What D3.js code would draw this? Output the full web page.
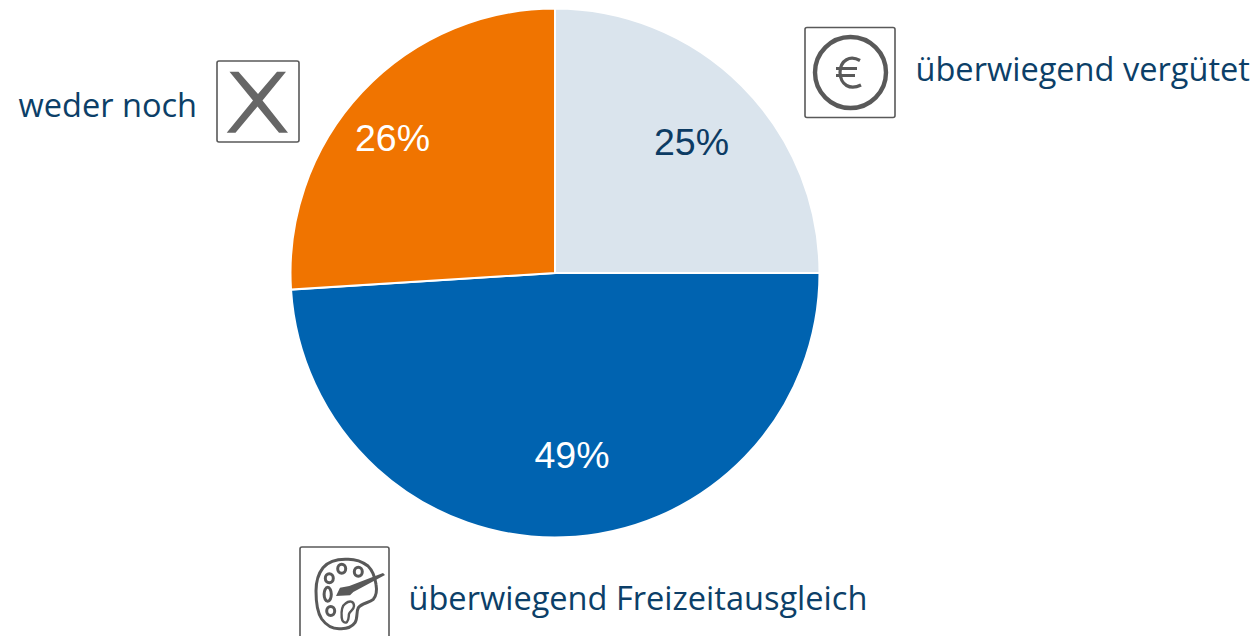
<!DOCTYPE html>
<html><head><meta charset="utf-8">
<script src="https://cdn.jsdelivr.net/npm/d3@7"></script>
<style>html,body{margin:0;padding:0;background:#fff;overflow:hidden}svg{display:block}</style></head>
<body><svg id="c" width="1260" height="636"></svg>
<script>
const categories = ["überwiegend vergütet","überwiegend Freizeitausgleich","weder noch"];
const values = [25,49,26];
const percentLabels = ["25%","49%","26%"];
const colors = ["#dae4ed","#0063b0","#f07400"];
const labelColors = ["#0c3b63","#ffffff","#ffffff"];
const labelPos = [[691.5,155],[572,468],[392.5,151]];
const catPos = [[915.5,81],[408.5,610],[18.5,117]];
const textColor = "#0c3f68", iconColor = "#595959";

const svg = d3.select("#c");
const pie = d3.pie().sort(null).value(d=>d);
const arc = d3.arc().innerRadius(0).outerRadius(264.5);
const g = svg.append("g").attr("transform","translate(555,273)");
g.selectAll("path").data(pie(values)).join("path")
 .attr("d",arc).attr("fill",(d,i)=>colors[i]).attr("stroke","#fff").attr("stroke-width",2);

svg.selectAll("text.p").data(percentLabels).join("text").attr("class","p")
 .attr("x",(d,i)=>labelPos[i][0]).attr("y",(d,i)=>labelPos[i][1])
 .attr("text-anchor","middle").attr("fill",(d,i)=>labelColors[i])
 .style("font","37.5px 'Liberation Sans',Arial,sans-serif").text(d=>d);

svg.selectAll("text.c").data(categories).join("text").attr("class","c")
 .attr("x",(d,i)=>catPos[i][0]).attr("y",(d,i)=>catPos[i][1])
 .attr("fill",textColor)
 .style("font","32.55px 'Open Sans',sans-serif").text(d=>d);

function box(x,y,w,h){svg.append("rect").attr("x",x).attr("y",y).attr("width",w).attr("height",h).attr("rx",2)
 .attr("fill","#fff").attr("stroke",iconColor).attr("stroke-width",1.6);}
// euro icon
box(805,27.5,90,90);
svg.append("circle").attr("cx",850.5).attr("cy",72.5).attr("r",35.5).attr("fill","none").attr("stroke",iconColor).attr("stroke-width",4.4);
svg.append("path").attr("d","M860 60.5C850 55 840.5 60 840 72.5C840.5 85 850 90.5 861 85M836 68.5H857M836 75.5H855")
 .attr("fill","none").attr("stroke",iconColor).attr("stroke-width",3.2);
// X icon
box(217,61,82,81);
svg.append("path").attr("d","M229.5 71.7H238.5L258 94L277 71.7H286L262.5 100.5L288 132.7H279L257.5 106.5L235.5 132.7H226.7L253 100.5Z")
 .attr("fill","#666666");
// palette icon
box(300,547,89,100);
svg.append("path").attr("d","M368 566C360 560 353 559 346.7 559.3C336 559 328 562 323 567.7C318 574 316 582 316 591C316 602 317 612 321.7 619C326 625 333 629 340 628.7C347 629 352 627 355 622.7C358 618 356 612 358.3 607.7C362 603 369 603 373.3 599.3C377 595 377 590 376 584.3C375 577 372 570 368 566Z")
 .attr("fill","none").attr("stroke",iconColor).attr("stroke-width",3);
[[329.3,578.3,4,4.5],[341.7,568.7,4,4.5],[358.3,571.7,4,4.5],[327.7,594.3,3.6,7],[330.7,611,4,4.5]].forEach(p=>{
 svg.append("ellipse").attr("cx",p[0]).attr("cy",p[1]).attr("rx",p[2]).attr("ry",p[3])
  .attr("fill","none").attr("stroke",iconColor).attr("stroke-width",3);});
svg.append("path").attr("d","M336 596L340 587.7L349.3 586L383 573L385 575L353.3 592L350 595.3Z").attr("fill",iconColor);
svg.append("path").attr("d","M341.7 617.7C341 610 343 605 345.5 603.5C349 600.5 354 600.5 354 606C354 610 349.5 611 349 614C348.5 617 349 620 347 622C345 623.5 342 622 341.7 617.7Z")
 .attr("fill","none").attr("stroke",iconColor).attr("stroke-width",2.4);
</script></body></html>
